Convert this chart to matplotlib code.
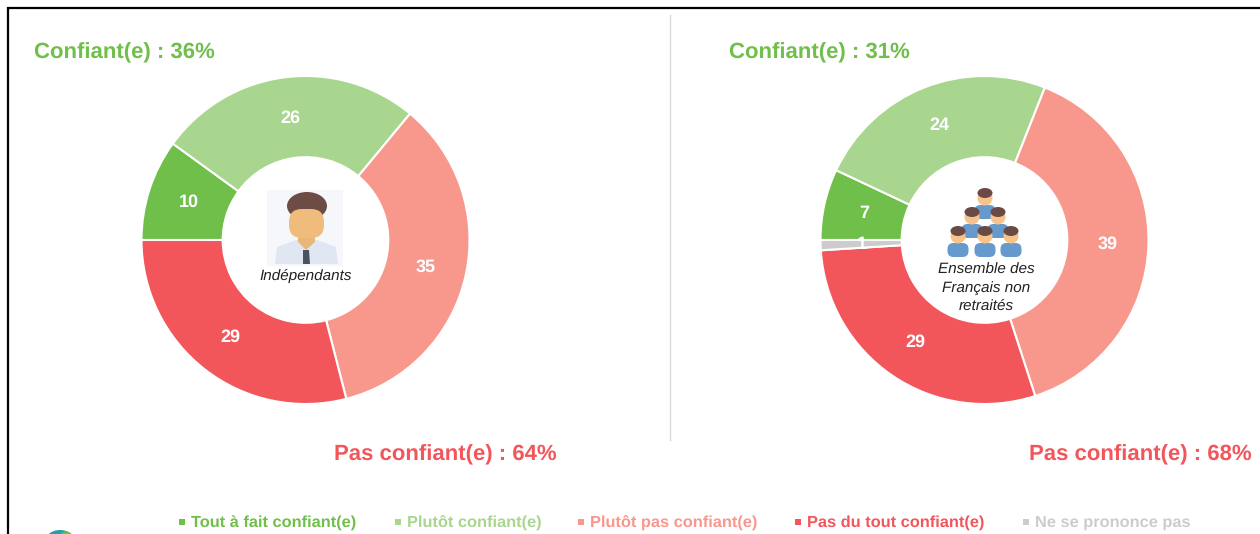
import matplotlib.pyplot as plt
from matplotlib import font_manager
from matplotlib.patches import Circle, Ellipse, FancyBboxPatch, Polygon, Rectangle

plt.rcParams['font.family'] = ['Liberation Sans', 'DejaVu Sans']
plt.rcParams['text.hinting'] = 'none'

# Liberation may come without its italic, so take the first family that has one
italic_names = {f.name for f in font_manager.fontManager.ttflist if f.style == 'italic'}
italic_family = next((n for n in ['Liberation Sans', 'Roboto', 'Open Sans', 'Noto Sans', 'Lato', 'Inter']
                      if n in italic_names), 'DejaVu Sans')

# Data
left_values = [10, 26, 35, 29]
right_values = [7, 24, 39, 29, 1]
left_colors = ['#70BF4B', '#A9D68F', '#F8988D', '#F2565B']
right_colors = ['#70BF4B', '#A9D68F', '#F8988D', '#F2565B', '#CCCCCC']
legend_labels = ['Tout à fait confiant(e)', 'Plutôt confiant(e)', 'Plutôt pas confiant(e)',
                 'Pas du tout confiant(e)', 'Ne se prononce pas']
legend_colors = ['#70BF4B', '#A9D68F', '#F8988D', '#F2565B', '#CCCCCC']
legend_x = [179, 395, 578, 795, 1023]

W, H = 1260, 534
fig = plt.figure(figsize=(W / 100, H / 100), dpi=100)


def donut(values, colors, cx, cy, r=164):
    ax = fig.add_axes([(cx - r - 4) / W, (H - cy - r - 4) / H, (2 * r + 8) / W, (2 * r + 8) / H])
    wedges, _, autotexts = ax.pie(values, colors=colors, startangle=180, counterclock=False,
                                  radius=1, autopct='%.0f', pctdistance=0.75,
                                  wedgeprops={'width': 0.495, 'edgecolor': 'white', 'linewidth': 1.5})
    lim = (r + 4) / r
    ax.set_xlim(-lim, lim)
    ax.set_ylim(-lim, lim)
    ax.patch.set_alpha(0)
    for t in autotexts:
        t.set_color('white')
        t.set_fontweight('bold')
        t.set_fontsize(13)
    return ax


donut(left_values, left_colors, 305.5, 240)
donut(right_values, right_colors, 984.5, 240)

# overlay in pixel coordinates for the icons and captions, y going down like in the picture
top = fig.add_axes([0, 0, 1, 1])
top.set_xlim(0, W)
top.set_ylim(H, 0)
top.axis('off')
top.patch.set_alpha(0)

# frame and separator
top.plot([8, 8, W], [H, 8, 8], color='black', lw=1.6, solid_joinstyle='miter')
top.plot([670, 670], [15, 440], color='#D9D9D9', lw=1)

# headings
top.text(34, 53, 'Confiant(e) : 36%', color='#70BF4B', fontsize=15.9, fontweight='bold', va='center')
top.text(729, 53, 'Confiant(e) : 31%', color='#70BF4B', fontsize=15.9, fontweight='bold', va='center')
top.text(334, 455, 'Pas confiant(e) : 64%', color='#F2565B', fontsize=15.9, fontweight='bold', va='center')
top.text(1029, 455, 'Pas confiant(e) : 68%', color='#F2565B', fontsize=15.9, fontweight='bold', va='center')

# man icon
top.add_patch(Rectangle((267, 190), 76, 76, color='#F6F7FB', lw=0))
top.add_patch(Polygon([(275, 264), (277, 247), (296, 240), (317, 240), (336, 247), (338, 264)],
                      color='#E0E7F3', lw=0))
top.add_patch(Polygon([(298, 230), (315, 230), (315, 242), (306, 250), (298, 242)], color='#E9B878', lw=0))
top.add_patch(Polygon([(303, 250), (309, 250), (310, 264), (303, 264)], color='#4A5160', lw=0))
top.add_patch(Ellipse((307, 206), 40, 28, color='#6D4C46', lw=0))
top.add_patch(FancyBboxPatch((289, 209), 35, 29, boxstyle='round,pad=0,rounding_size=13',
                             color='#F0BC7C', lw=0))
top.text(306, 276, 'Indépendants', fontsize=11, style='italic', family=italic_family,
         color='#222222', ha='center', va='center')


def person(x, y):
    top.add_patch(FancyBboxPatch((x - 10.5, y + 17), 21, 14, boxstyle='round,pad=0,rounding_size=6',
                                 color='#6699CC', lw=0))
    top.add_patch(Circle((x, y + 10), 7.5, color='#F7C38A', lw=0))
    top.add_patch(Ellipse((x, y + 5), 15, 10, color='#6A4A44', lw=0))


# people icon, back row first
person_x = [985, 972, 998, 958, 985, 1011]
person_y = [188, 207, 207, 226, 226, 226]
for px, py in zip(person_x, person_y):
    person(px, py)
for i, line in enumerate(['Ensemble des', 'Français non', 'retraités']):
    top.text(986, 270 + i * 18, line, fontsize=11, style='italic', family=italic_family,
             color='#222222', ha='center', va='center')

# legend
for x, label, c in zip(legend_x, legend_labels, legend_colors):
    top.add_patch(Rectangle((x, 519), 6, 6, color=c, lw=0))
    top.text(x + 12, 523, label, color=c, fontsize=11.8, fontweight='bold', va='center')

# logo cut off by the bottom edge
top.add_patch(Ellipse((60, 540), 28, 20, color='#2A9DA8', lw=0))
top.add_patch(Ellipse((66, 540), 16, 17, color='#70BF4B', lw=0))

plt.savefig('out.png', dpi=100)
plt.close()
